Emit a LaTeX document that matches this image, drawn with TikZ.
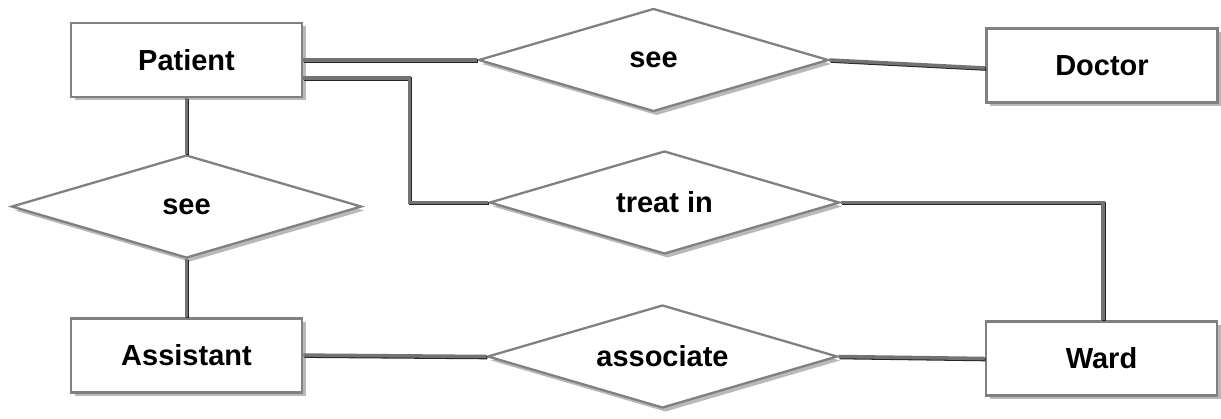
\documentclass[tikz,border=0pt]{standalone}
\usepackage{fontspec}
\setmainfont{Liberation Sans}
\usepackage{tikz}
\usetikzlibrary{shapes.geometric,positioning,shadows}

\newcommand{\reltext}[1]{\makebox[0pt]{#1}}

\begin{document}
\begin{tikzpicture}[
    entity/.style={rectangle, draw=black!50, line width=1.6pt, fill=white, minimum width=4.62cm, minimum height=1.48cm, inner sep=0pt,
        font=\fontsize{16.5}{19}\selectfont\bfseries, drop shadow={shadow xshift=0.07cm, shadow yshift=-0.07cm, opacity=0.55}},
    relation/.style={diamond, draw=black!50, line width=1.3pt, fill=white, minimum width=7cm, minimum height=2.06cm, inner sep=0pt,
        font=\fontsize{16.5}{19}\selectfont\bfseries, drop shadow={shadow xshift=0.06cm, shadow yshift=-0.08cm, opacity=0.55}},
    link/.style={draw=black!55, line width=2pt,
        preaction={draw=black!85, line width=2pt, transform canvas={shift={(0.6pt,-0.6pt)}}}}
]
    \useasboundingbox (0,0) rectangle (24.42,-8.38);

    \node[entity] (patient) at (3.73,-1.20) {Patient};
    \node[relation, below=1.11cm of patient] (seeA) {\reltext{see}};
    \node[entity, below=1.15cm of seeA] (assistant) {Assistant};
    \node[relation] (seeD) at (13.07,-1.20) {\reltext{see}};
    \node[relation] (treat) at (13.29,-4.05) {\reltext{treat in}};
    \node[relation] (assoc) at (13.25,-7.13) {\reltext{associate}};
    \node[entity] (doctor) at (22.04,-1.31) {Doctor};
    \node[entity] (ward) at (22.03,-7.17) {Ward};

    \draw[link] (patient.east) -- (seeD.west);
    \draw[link] (seeD.east) -- ([yshift=-0.05cm]doctor.west);
    \draw[link] ([yshift=-0.36cm]patient.east) -- ++(2.12,0) |- (treat.west);
    \draw[link] (treat.east) -| ([xshift=0.03cm]ward.north);
    \draw[link] (patient.south) -- (seeA.north);
    \draw[link] (seeA.south) -- (assistant.north);
    \draw[link] (assistant.east) -- (assoc.west);
    \draw[link] (assoc.east) -- (ward.west);
\end{tikzpicture}
\end{document}
